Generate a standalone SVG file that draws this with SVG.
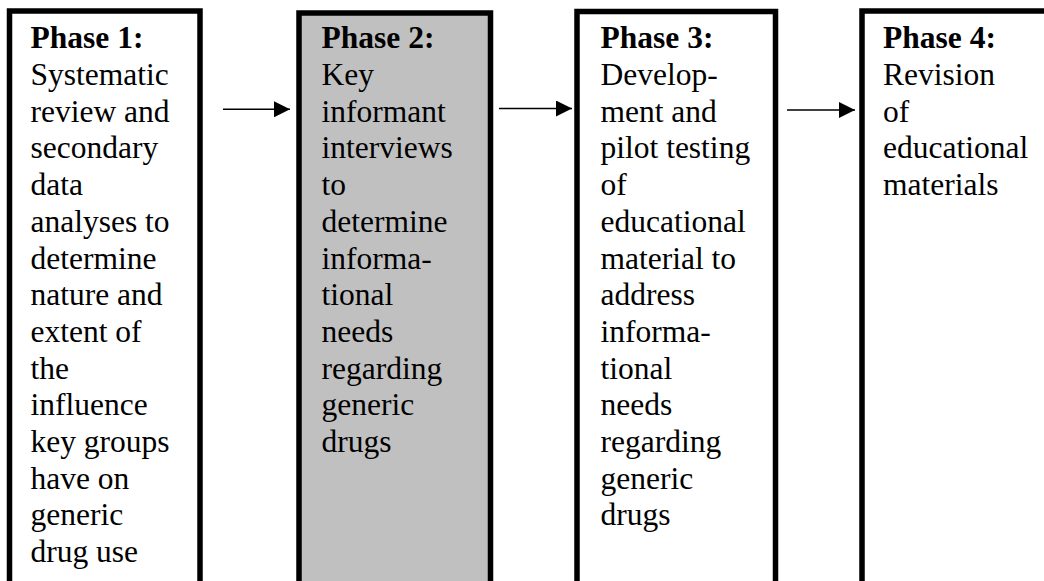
<svg xmlns="http://www.w3.org/2000/svg" width="1044" height="581" viewBox="0 0 1044 581">
  <style>
    .box { stroke: #000; stroke-width: 5.5; fill: #fff; }
    .gray { fill: #c0c0c0; }
    .t { font-family: "Liberation Serif", "Times New Roman", serif; font-size: 31.5px; fill: #000; }
    .b { font-weight: bold; }
    .conn { stroke: #000; stroke-width: 1.6; fill: none; }
  </style>
  <defs>
    <marker id="ah" markerUnits="userSpaceOnUse" markerWidth="16" markerHeight="16" viewBox="0 0 15 15" refX="15" refY="7.5" orient="auto">
      <path d="M0,0 L15,7.5 L0,15 z" fill="#000"/>
    </marker>
  </defs>
  <rect width="1044" height="581" fill="#fff"/>

  <g id="phase1">
    <rect class="box" x="9.5" y="11" width="190.5" height="620"/>
    <text class="t" x="30.5" y="48.3">
      <tspan class="b" x="30.5" y="48.3">Phase 1:</tspan>
      <tspan x="30.5" dy="36.7">Systematic</tspan>
      <tspan x="30.5" dy="36.7">review and</tspan>
      <tspan x="30.5" dy="36.7">secondary</tspan>
      <tspan x="30.5" dy="36.7">data</tspan>
      <tspan x="30.5" dy="36.7">analyses to</tspan>
      <tspan x="30.5" dy="36.7">determine</tspan>
      <tspan x="30.5" dy="36.7">nature and</tspan>
      <tspan x="30.5" dy="36.7">extent of</tspan>
      <tspan x="30.5" dy="36.7">the</tspan>
      <tspan x="30.5" dy="36.7">influence</tspan>
      <tspan x="30.5" dy="36.7">key groups</tspan>
      <tspan x="30.5" dy="36.7">have on</tspan>
      <tspan x="30.5" dy="36.7">generic</tspan>
      <tspan x="30.5" dy="36.7">drug use</tspan>
    </text>
  </g>

  <g id="phase2">
    <rect class="box gray" x="299" y="13" width="191.5" height="620"/>
    <text class="t" x="321.5" y="48.3">
      <tspan class="b" x="321.5" y="48.3">Phase 2:</tspan>
      <tspan x="321.5" dy="36.7">Key</tspan>
      <tspan x="321.5" dy="36.7">informant</tspan>
      <tspan x="321.5" dy="36.7">interviews</tspan>
      <tspan x="321.5" dy="36.7">to</tspan>
      <tspan x="321.5" dy="36.7">determine</tspan>
      <tspan x="321.5" dy="36.7">informa-</tspan>
      <tspan x="321.5" dy="36.7">tional</tspan>
      <tspan x="321.5" dy="36.7">needs</tspan>
      <tspan x="321.5" dy="36.7">regarding</tspan>
      <tspan x="321.5" dy="36.7">generic</tspan>
      <tspan x="321.5" dy="36.7">drugs</tspan>
    </text>
  </g>

  <g id="phase3">
    <rect class="box" x="577" y="11.5" width="198.5" height="620"/>
    <text class="t" x="600.5" y="48.3">
      <tspan class="b" x="600.5" y="48.3">Phase 3:</tspan>
      <tspan x="600.5" dy="36.7">Develop-</tspan>
      <tspan x="600.5" dy="36.7">ment and</tspan>
      <tspan x="600.5" dy="36.7">pilot testing</tspan>
      <tspan x="600.5" dy="36.7">of</tspan>
      <tspan x="600.5" dy="36.7">educational</tspan>
      <tspan x="600.5" dy="36.7">material to</tspan>
      <tspan x="600.5" dy="36.7">address</tspan>
      <tspan x="600.5" dy="36.7">informa-</tspan>
      <tspan x="600.5" dy="36.7">tional</tspan>
      <tspan x="600.5" dy="36.7">needs</tspan>
      <tspan x="600.5" dy="36.7">regarding</tspan>
      <tspan x="600.5" dy="36.7">generic</tspan>
      <tspan x="600.5" dy="36.7">drugs</tspan>
    </text>
  </g>

  <g id="phase4">
    <rect class="box" x="862" y="11" width="200" height="620"/>
    <text class="t" x="883" y="48.3">
      <tspan class="b" x="883" y="48.3">Phase 4:</tspan>
      <tspan x="883" dy="36.7">Revision</tspan>
      <tspan x="883" dy="36.7">of</tspan>
      <tspan x="883" dy="36.7">educational</tspan>
      <tspan x="883" dy="36.7">materials</tspan>
    </text>
  </g>

  <g id="connectors">
    <line class="conn" x1="223" y1="109.3" x2="290" y2="109.3" marker-end="url(#ah)"/>
    <line class="conn" x1="499" y1="108.5" x2="572" y2="108.5" marker-end="url(#ah)"/>
    <line class="conn" x1="787" y1="110" x2="855" y2="110" marker-end="url(#ah)"/>
  </g>
</svg>
